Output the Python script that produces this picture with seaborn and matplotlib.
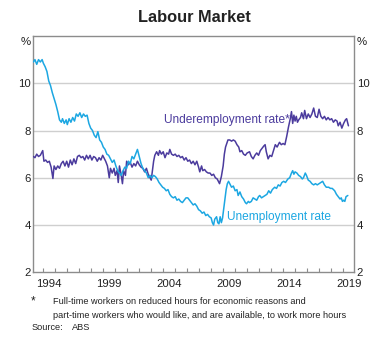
import matplotlib
matplotlib.use("Agg")
import matplotlib.pyplot as plt
import seaborn as sns
import pandas as pd
from matplotlib.ticker import FixedLocator, NullFormatter

# ---------------- data ----------------
unemp_year = [
    1993.17, 1993.3, 1993.45, 1993.6, 1993.75, 1993.9, 1994.0, 1994.15, 1994.3, 1994.45,
    1994.6, 1994.75, 1994.9, 1995.05, 1995.2, 1995.35, 1995.5, 1995.6, 1995.75, 1995.9,
    1996.0, 1996.15, 1996.3, 1996.45, 1996.6, 1996.75, 1996.9, 1997.05, 1997.2, 1997.35,
    1997.5, 1997.65, 1997.8, 1997.95, 1998.1, 1998.25, 1998.4, 1998.55, 1998.7, 1998.85,
    1999.0, 1999.15, 1999.3, 1999.45, 1999.6, 1999.75, 1999.9, 2000.05, 2000.2, 2000.35,
    2000.5, 2000.65, 2000.8, 2000.95, 2001.1, 2001.25, 2001.4, 2001.55, 2001.7, 2001.85,
    2002.0, 2002.15, 2002.3, 2002.45, 2002.6, 2002.75, 2002.9, 2003.05, 2003.2, 2003.35,
    2003.5, 2003.65, 2003.8, 2003.95, 2004.1, 2004.25, 2004.4, 2004.55, 2004.7, 2004.85,
    2005.0, 2005.15, 2005.3, 2005.45, 2005.6, 2005.75, 2005.9,
    2006.05, 2006.2, 2006.35, 2006.5, 2006.65, 2006.8, 2006.95, 2007.1, 2007.25, 2007.4,
    2007.55, 2007.7, 2007.85, 2008.0, 2008.1, 2008.2, 2008.3, 2008.45, 2008.55, 2008.65,
    2008.75, 2008.85, 2008.95, 2009.05, 2009.15, 2009.25, 2009.35, 2009.45, 2009.55, 2009.7,
    2009.85, 2010.0, 2010.15, 2010.25, 2010.4, 2010.55, 2010.7, 2010.85, 2010.95, 2011.1,
    2011.2, 2011.35, 2011.5, 2011.65, 2011.8, 2011.95, 2012.05, 2012.2, 2012.35, 2012.5,
    2012.65, 2012.8, 2012.95, 2013.1, 2013.3, 2013.45, 2013.6, 2013.75, 2013.9, 2014.05,
    2014.2, 2014.4, 2014.55, 2014.7, 2014.8, 2014.9, 2015.0, 2015.15, 2015.3, 2015.45,
    2015.6, 2015.7, 2015.85, 2015.95, 2016.1, 2016.25, 2016.4, 2016.55, 2016.7, 2016.85,
    2017.0, 2017.15, 2017.3, 2017.45, 2017.6, 2017.8, 2017.95, 2018.1, 2018.3, 2018.45,
    2018.6, 2018.75, 2018.85, 2018.95, 2019.05, 2019.15, 2019.25, 2019.4,
]
unemp_rate = [
    10.9, 11.0, 10.8, 11.0, 10.9, 11.0, 10.85, 10.7, 10.5, 10.1,
    9.9, 9.6, 9.35, 9.1, 8.8, 8.45, 8.35, 8.5, 8.3, 8.45,
    8.25, 8.5, 8.35, 8.55, 8.4, 8.7, 8.6, 8.75, 8.55, 8.7,
    8.6, 8.65, 8.3, 8.1, 8.0, 7.8, 7.7, 7.95, 7.6, 7.5,
    7.3, 7.2, 7.0, 6.95, 6.8, 6.65, 6.75, 6.5, 6.3, 6.2,
    6.1, 6.3, 6.45, 6.4, 6.7, 6.6, 6.9, 6.8, 7.0, 7.2,
    6.9, 6.6, 6.4, 6.3, 6.2, 6.0, 6.1, 6.0, 6.1, 6.05,
    5.95, 5.8, 5.7, 5.6, 5.55, 5.45, 5.5, 5.3, 5.2, 5.15,
    5.2, 5.05, 5.1, 5.0, 4.95, 5.05, 5.15,
    5.15, 5.05, 4.95, 4.85, 4.9, 4.8, 4.65, 4.6, 4.5, 4.55,
    4.4, 4.45, 4.35, 4.3, 4.1, 4.0, 4.25, 4.35, 4.1, 4.05,
    4.35, 4.1, 4.3, 4.7, 5.1, 5.5, 5.75, 5.85, 5.75, 5.6,
    5.65, 5.45, 5.5, 5.25, 5.4, 5.2, 5.1, 4.95, 4.9, 5.0,
    4.95, 5.0, 5.15, 5.1, 5.05, 5.2, 5.25, 5.15, 5.2, 5.25,
    5.3, 5.45, 5.35, 5.5, 5.6, 5.55, 5.7, 5.65, 5.8, 5.85,
    5.8, 5.95, 6.0, 6.2, 6.3, 6.15, 6.25, 6.2, 6.1, 6.05,
    5.95, 6.0, 6.2, 6.1, 5.9, 5.85, 5.75, 5.7, 5.75, 5.7,
    5.75, 5.8, 5.85, 5.7, 5.6, 5.6, 5.55, 5.55, 5.45, 5.3,
    5.2, 5.1, 5.15, 5.0, 5.05, 5.0, 5.2, 5.25,
]

under_year = [
    1993.17, 1993.3, 1993.45, 1993.6, 1993.75, 1993.95, 1994.05, 1994.2, 1994.35, 1994.5,
    1994.65, 1994.8, 1994.9, 1995.05, 1995.2, 1995.35, 1995.5, 1995.65, 1995.8, 1995.95,
    1996.1, 1996.25, 1996.4, 1996.55, 1996.7, 1996.85, 1997.0, 1997.15, 1997.3, 1997.45,
    1997.6, 1997.75, 1997.9, 1998.05, 1998.2, 1998.35, 1998.5, 1998.65, 1998.8, 1998.95,
    1999.2, 1999.35, 1999.5, 1999.6, 1999.75, 1999.9, 2000.0, 2000.15, 2000.25, 2000.35,
    2000.5, 2000.6, 2000.7, 2000.85, 2000.95, 2001.1, 2001.25, 2001.4, 2001.55, 2001.7,
    2001.85, 2002.0, 2002.15, 2002.3, 2002.45, 2002.6, 2002.75, 2002.9, 2003.0, 2003.1,
    2003.2, 2003.3, 2003.45, 2003.6, 2003.7, 2003.85, 2004.0, 2004.15, 2004.3, 2004.45,
    2004.55, 2004.7, 2004.85, 2005.0, 2005.15, 2005.3, 2005.45, 2005.6, 2005.75, 2005.9,
    2006.05, 2006.2, 2006.35, 2006.5, 2006.65, 2006.8, 2006.95, 2007.05, 2007.2, 2007.3,
    2007.45, 2007.6, 2007.75, 2007.9, 2008.05, 2008.2, 2008.35, 2008.5, 2008.6, 2008.7,
    2008.85, 2009.0, 2009.1, 2009.2, 2009.3, 2009.4, 2009.55, 2009.7, 2009.85, 2010.0,
    2010.15, 2010.3, 2010.4, 2010.55, 2010.7, 2010.85, 2011.0, 2011.2, 2011.35, 2011.5,
    2011.65, 2011.8, 2011.95, 2012.1, 2012.25, 2012.4, 2012.5, 2012.6, 2012.75, 2012.9,
    2013.05, 2013.2, 2013.35, 2013.5, 2013.7, 2013.85, 2014.0, 2014.15, 2014.3, 2014.45,
    2014.6, 2014.7, 2014.8, 2014.9, 2015.0, 2015.1, 2015.2, 2015.3, 2015.45, 2015.55,
    2015.7, 2015.8, 2015.95, 2016.1, 2016.25, 2016.4, 2016.55, 2016.7, 2016.85, 2017.0,
    2017.15, 2017.3, 2017.45, 2017.6, 2017.75, 2017.9, 2018.05, 2018.2, 2018.35, 2018.5,
    2018.6, 2018.75, 2018.9, 2019.05, 2019.2, 2019.3, 2019.45,
]
under_rate = [
    6.9, 6.85, 7.0, 6.9, 6.95, 7.15, 6.7, 6.75, 6.65, 6.7,
    6.45, 5.97, 6.5, 6.35, 6.5, 6.4, 6.6, 6.7, 6.5, 6.7,
    6.45, 6.75, 6.55, 6.8, 6.6, 6.9, 6.95, 6.85, 6.9, 6.75,
    6.95, 6.8, 6.95, 6.75, 6.9, 6.85, 6.7, 6.85, 6.75, 6.95,
    6.7, 6.5, 6.0, 6.4, 6.2, 6.4, 6.1, 6.3, 5.8, 6.5,
    6.1, 5.75, 6.3, 6.1, 6.7, 6.55, 6.65, 6.45, 6.6, 6.5,
    6.7, 6.55, 6.45, 6.4, 6.25, 6.4, 6.15, 6.0, 5.9, 6.3,
    6.7, 6.95, 7.1, 6.95, 7.15, 7.0, 7.1, 6.85, 7.05, 7.0,
    7.2, 7.0, 6.95, 7.0, 6.9, 6.95, 6.85, 6.9, 6.75, 6.85,
    6.7, 6.75, 6.6, 6.7, 6.55, 6.7, 6.45, 6.25, 6.5, 6.3,
    6.35, 6.25, 6.2, 6.2, 6.1, 6.15, 6.0, 5.95, 5.85, 5.75,
    6.05, 6.5, 7.0, 7.3, 7.45, 7.6, 7.6, 7.55, 7.6, 7.55,
    7.4, 7.3, 7.1, 7.15, 7.0, 6.95, 7.05, 7.1, 6.9, 6.8,
    6.95, 7.05, 6.95, 7.15, 7.25, 7.35, 7.4, 7.1, 6.8, 6.95,
    6.9, 7.15, 7.4, 7.3, 7.5, 7.4, 7.45, 7.4, 7.75, 8.15,
    8.5, 8.8, 8.3, 8.65, 8.4, 8.6, 8.35, 8.45, 8.55, 8.75,
    8.5, 8.85, 8.5, 8.7, 8.55, 8.7, 8.95, 8.6, 8.55, 8.9,
    8.6, 8.5, 8.6, 8.45, 8.55, 8.45, 8.5, 8.35, 8.45, 8.4,
    8.2, 8.35, 8.1, 8.3, 8.45, 8.5, 8.2,
]

year_labels = ["1994", "1999", "2004", "2009", "2014", "2019"]
y_ticks = [2, 4, 6, 8, 10]

UNDER_COL = "#4b3b9d"
UNEMP_COL = "#1ca7e2"
TXT = "#222222"
GREY = "#8c8c8c"

# ---------------- figure ----------------
sns.set_theme(style="white")
plt.rcParams["font.family"] = ["Liberation Sans", "DejaVu Sans"]

fig = plt.figure(figsize=(3.89, 3.47), dpi=100)
ax = fig.add_axes([0.0861, 0.2153, 0.8241, 0.6810])

df_u = pd.DataFrame({"year": unemp_year, "rate": unemp_rate})
df_d = pd.DataFrame({"year": under_year, "rate": under_rate})

for y in [4, 6, 8, 10]:
    ax.axhline(y, color="#cfcfcf", lw=1.0, zorder=0)

sns.lineplot(data=df_d, x="year", y="rate", ax=ax, color=UNDER_COL, lw=1.1,
             estimator=None, sort=False, zorder=3)
sns.lineplot(data=df_u, x="year", y="rate", ax=ax, color=UNEMP_COL, lw=1.1,
             estimator=None, sort=False, zorder=3)

ax.set_xlim(1993.18, 2019.92)
ax.set_ylim(2, 12)
ax.set_xlabel("")
ax.set_ylabel("")

# x axis: labels at mid-year, minor tick marks at year boundaries
ax.xaxis.set_major_locator(FixedLocator([int(s) + 0.5 for s in year_labels]))
ax.set_xticklabels(year_labels)
ax.xaxis.set_minor_locator(FixedLocator(list(range(1994, 2020))))
ax.xaxis.set_minor_formatter(NullFormatter())
ax.tick_params(axis="x", which="major", length=0, pad=5, labelsize=8.2, colors=TXT)
ax.tick_params(axis="x", which="minor", direction="in", length=3, width=0.8,
               color=GREY, bottom=True, top=False)

ax.set_yticks(y_ticks)
ax.set_yticklabels([str(v) for v in y_ticks])
ax.tick_params(axis="y", length=0, pad=2, labelsize=8.2, colors=TXT,
               labelleft=True, labelright=True)

for s in ax.spines.values():
    s.set_color(GREY)
    s.set_linewidth(1.0)

# % units
ax.text(-0.008, 0.995, "%", transform=ax.transAxes, ha="right", va="top",
        fontsize=8.2, color=TXT)
ax.text(1.008, 0.995, "%", transform=ax.transAxes, ha="left", va="top",
        fontsize=8.2, color=TXT)

# series labels
ax.text(2004.05, 8.44, "Underemployment rate*", color=UNDER_COL, fontsize=8.6,
        ha="left", va="center")
ax.text(2009.28, 4.35, "Unemployment rate", color=UNEMP_COL, fontsize=8.6,
        ha="left", va="center")

# title
fig.text(0.4987, 1 - 18 / 347, "Labour Market", ha="center", va="center",
         fontsize=11.8, fontweight="bold", color=TXT)

# footnotes
FN = 6.6
fig.text(33.3 / 389, 1 - 301 / 347, "*", ha="center", va="center", fontsize=8.5, color=TXT)
fig.text(53.3 / 389, 1 - 302 / 347,
         "Full-time workers on reduced hours for economic reasons and",
         ha="left", va="center", fontsize=FN, color=TXT)
fig.text(53.3 / 389, 1 - 315 / 347,
         "part-time workers who would like, and are available, to work more hours",
         ha="left", va="center", fontsize=FN, color=TXT)
fig.text(31.7 / 389, 1 - 328 / 347, "Source:", ha="left", va="center", fontsize=FN, color=TXT)
fig.text(71.7 / 389, 1 - 328 / 347, "ABS", ha="left", va="center", fontsize=FN, color=TXT)

fig.savefig("out.png", dpi=100)
